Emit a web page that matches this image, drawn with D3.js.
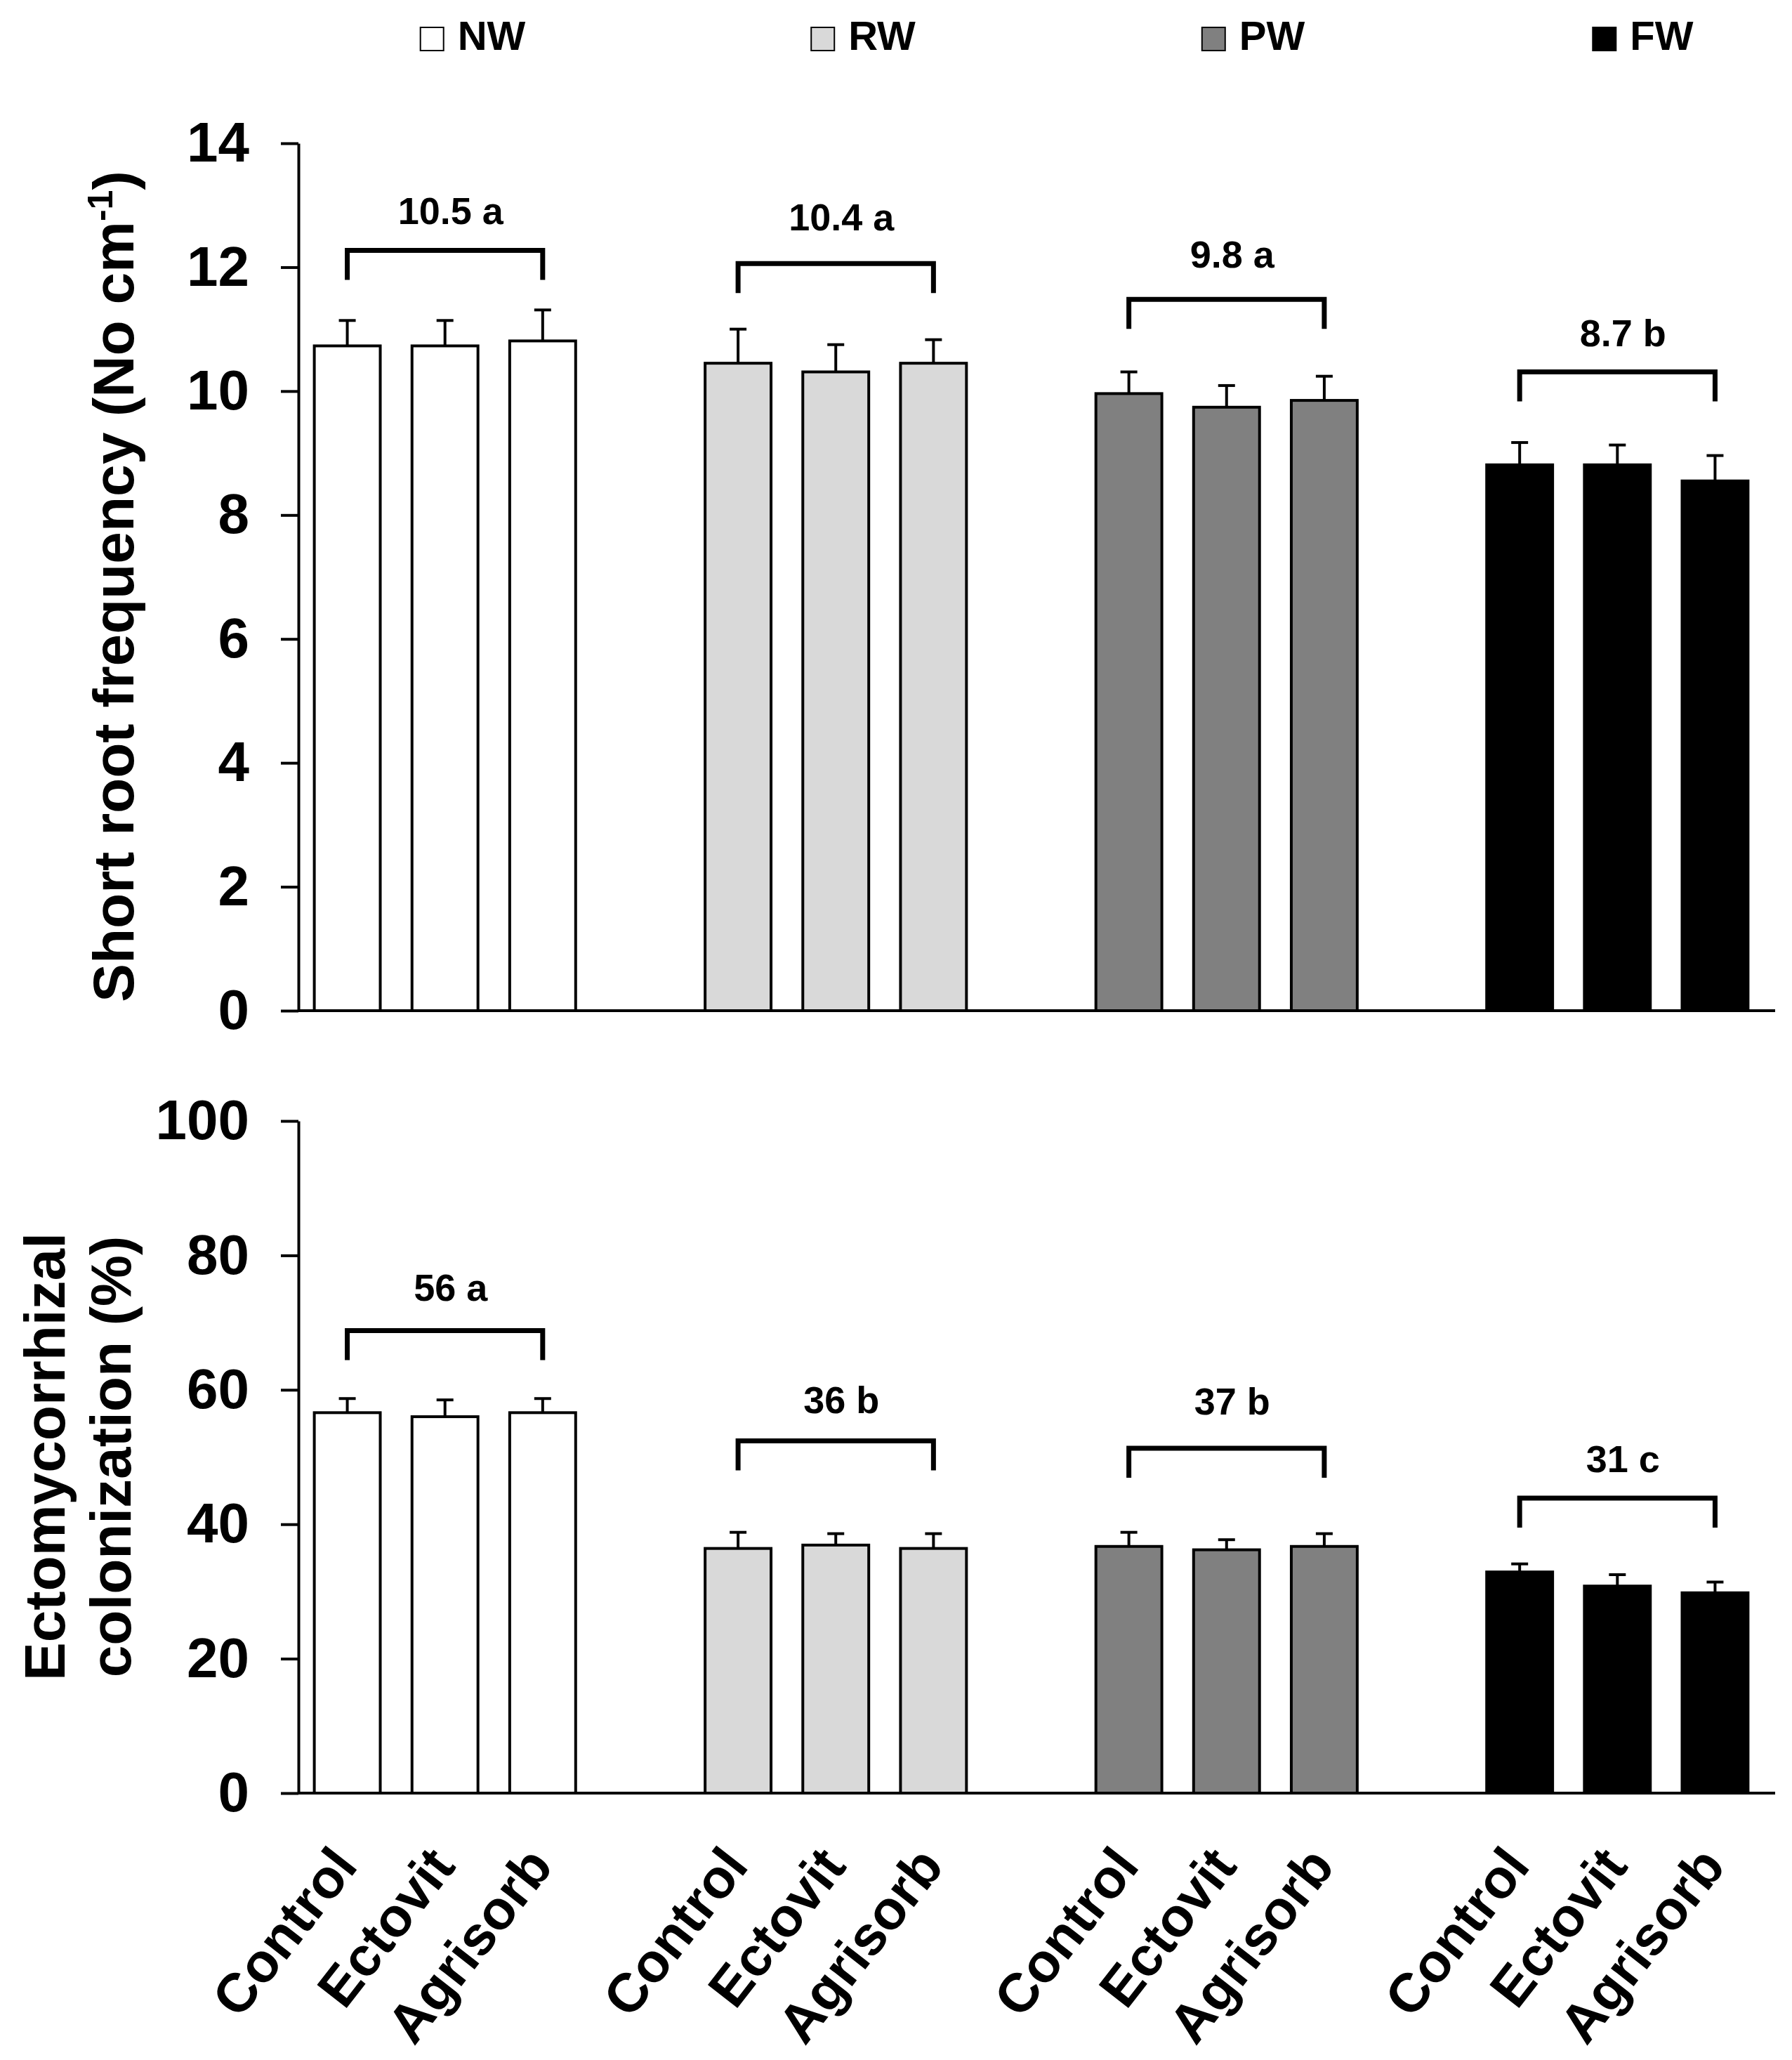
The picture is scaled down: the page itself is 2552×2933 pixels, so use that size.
<!DOCTYPE html>
<html>
  <head>
    <title>Short roots and ectomycorrhizal colonization</title>
    <style>
      body {margin:0; background:#fff;}
      svg {display:block; background:#fff;}
      text {font-family:"Liberation Sans", Arial, sans-serif; font-weight:bold; fill:#000;}
      .tick text {font-size:80px;}
      .axis path, .axis line {stroke:#000; stroke-width:4px; fill:none;}
      .ylab {font-size:82px;}
      .note {font-size:54px;}
      .leg {font-size:58px;}
      .xlab {font-size:78px;}
    </style>
    <script src="https://cdn.jsdelivr.net/npm/d3@7"></script>
  </head>
  <body>
    <svg id="chart" width="2552" height="2933"></svg>
    <script>
      // data
      var groups     = ["NW", "RW", "PW", "FW"];
      var treatments = ["Control", "Ectovit", "Agrisorb"];
      var groupFill  = ["#ffffff", "#d9d9d9", "#808080", "#000000"];

      // short root frequency (No cm-1)
      var srfMean = [[10.73, 10.73, 10.81], [10.45, 10.31, 10.45], [9.96, 9.74, 9.85], [8.81, 8.81, 8.55]];
      var srfErr  = [[0.41, 0.41, 0.50], [0.55, 0.44, 0.38], [0.35, 0.35, 0.39], [0.36, 0.32, 0.41]];
      var srfNote = ["10.5 a", "10.4 a", "9.8 a", "8.7 b"];
      var srfBracketY = [12.27, 12.06, 11.48, 10.31];
      var srfNoteY    = [12.70, 12.60, 11.99, 10.72];
      var srfTicks = [0, 2, 4, 6, 8, 10, 12, 14];

      // ectomycorrhizal colonization (%)
      var ecmMean = [[56.6, 56.0, 56.6], [36.4, 36.9, 36.4], [36.7, 36.2, 36.7], [32.9, 30.8, 29.8]];
      var ecmErr  = [[2.1, 2.5, 2.1], [2.4, 1.7, 2.2], [2.1, 1.5, 1.9], [1.2, 1.7, 1.6]];
      var ecmNote = ["56 a", "36 b", "37 b", "31 c"];
      var ecmBracketY = [68.8, 52.4, 51.3, 43.9];
      var ecmNoteY    = [73.3, 56.5, 56.35, 47.75];
      var ecmTicks = [0, 20, 40, 60, 80, 100];

      var svg = d3.select("#chart");

      // one slot per bar, an empty slot between groups
      var slots = [];
      groups.forEach(function(g, gi) {
        treatments.forEach(function(t) { slots.push(g + "-" + t); });
        if (gi < groups.length - 1) slots.push("gap" + gi);
      });

      var x = d3.scaleBand()
                .domain(slots)
                .range([425, 2512])
                .paddingInner(0.325)
                .paddingOuter(0.1625);
      var axisEnd = 2528;

      function cx(gi, ti) { return x(groups[gi] + "-" + treatments[ti]) + x.bandwidth() / 2; }

      function panel(cfg) {
        var y = d3.scaleLinear().domain(cfg.domain).range(cfg.range);
        var g = svg.append("g");

        // bars
        cfg.mean.forEach(function(row, gi) {
          g.selectAll(null)
           .data(row)
           .enter()
           .append("rect")
           .attr("x", function(d, ti) { return x(groups[gi] + "-" + treatments[ti]); })
           .attr("y", function(d) { return y(d); })
           .attr("width", x.bandwidth())
           .attr("height", function(d) { return y(0) - y(d); })
           .style("fill", groupFill[gi])
           .style("stroke", "#000")
           .style("stroke-width", 4);

          // error bars, upper side only
          row.forEach(function(d, ti) {
            var top = y(d + cfg.err[gi][ti]);
            g.append("line")
             .attr("x1", cx(gi, ti)).attr("x2", cx(gi, ti))
             .attr("y1", y(d)).attr("y2", top)
             .style("stroke", "#000").style("stroke-width", 4);
            g.append("line")
             .attr("x1", cx(gi, ti) - 12).attr("x2", cx(gi, ti) + 12)
             .attr("y1", top).attr("y2", top)
             .style("stroke", "#000").style("stroke-width", 4);
          });

          // bracket over the group and its mean
          var by = y(cfg.bracketY[gi]);
          var x1 = cx(gi, 0), x2 = cx(gi, 2);
          g.append("path")
           .attr("d", "M" + x1 + "," + (by + 42) + "V" + by + "H" + x2 + "V" + (by + 42))
           .style("fill", "none").style("stroke", "#000").style("stroke-width", 7);
          g.append("text")
           .attr("class", "note")
           .attr("x", cx(gi, 1) + 8)
           .attr("y", y(cfg.noteY[gi]))
           .attr("text-anchor", "middle")
           .text(cfg.note[gi]);
        });

        // axes
        var ax = d3.axisLeft(y)
                   .tickValues(cfg.ticks)
                   .tickFormat(d3.format("d"))
                   .tickSize(25)
                   .tickSizeOuter(0)
                   .tickPadding(45);
        g.append("g")
         .attr("class", "axis")
         .attr("transform", "translate(" + x.range()[0] + ",0)")
         .call(ax);
        g.append("line")
         .attr("x1", x.range()[0]).attr("x2", axisEnd)
         .attr("y1", y(0)).attr("y2", y(0))
         .style("stroke", "#000").style("stroke-width", 4);

        return y;
      }

      var y1 = panel({domain: [0, 14], range: [1439, 204], mean: srfMean, err: srfErr,
                      note: srfNote, bracketY: srfBracketY, noteY: srfNoteY, ticks: srfTicks});
      var y2 = panel({domain: [0, 100], range: [2553, 1596], mean: ecmMean, err: ecmErr,
                      note: ecmNote, bracketY: ecmBracketY, noteY: ecmNoteY, ticks: ecmTicks});

      // y titles
      var t1 = svg.append("text")
                  .attr("class", "ylab")
                  .attr("text-anchor", "middle")
                  .attr("transform", "translate(190," + 835 + ") rotate(-90)");
      t1.append("tspan").text("Short root frequency (No cm");
      t1.append("tspan").attr("dy", -30).style("font-size", "50px").text("-1");
      t1.append("tspan").attr("dy", 30).text(")");

      var t2 = svg.append("text")
                  .attr("class", "ylab")
                  .attr("text-anchor", "middle")
                  .attr("transform", "translate(92," + 2074 + ") rotate(-90)");
      t2.append("tspan").attr("x", 0).text("Ectomycorrhizal");
      t2.append("tspan").attr("x", 0).attr("dy", 94).text("colonization (%)");

      // rotated treatment labels under the lower panel
      groups.forEach(function(gr, gi) {
        svg.selectAll(null)
           .data(treatments)
           .enter()
           .append("text")
           .attr("class", "xlab")
           .attr("text-anchor", "end")
           .attr("transform", function(d, ti) {
             return "translate(" + (cx(gi, ti) + 17) + "," + (y2(0) + 105) + ") rotate(-52)";
           })
           .text(function(d) { return d; });
      });

      // legend along the top
      groups.forEach(function(gr, gi) {
        var gx = cx(gi, 1) - 35;
        svg.append("rect")
           .attr("x", gx).attr("y", 39)
           .attr("width", 33).attr("height", 33)
           .style("fill", groupFill[gi])
           .style("stroke", "#000").style("stroke-width", 2);
        svg.append("text")
           .attr("class", "leg")
           .attr("x", gx + 53).attr("y", 71)
           .text(gr);
      });
    </script>
  </body>
</html>
